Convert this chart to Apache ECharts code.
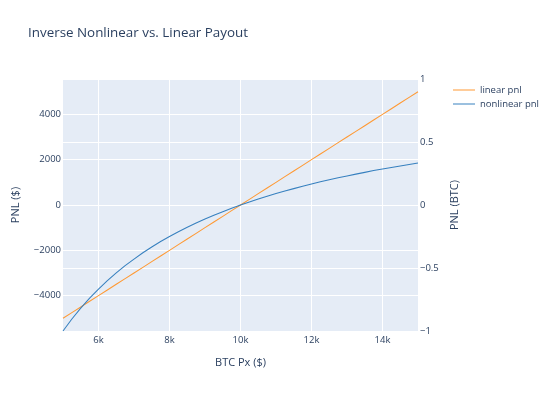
<!DOCTYPE html>
<html>
<head>
<meta charset="utf-8">
<script src="https://cdn.jsdelivr.net/npm/echarts@6/dist/echarts.min.js"></script>
<style>html,body{margin:0;padding:0;background:#fff}#c{width:554px;height:395px}</style>
</head>
<body>
<div id="c"></div>
<script>
var prices = [5000,5250,5500,5750,6000,6250,6500,6750,7000,7250,7500,7750,8000,8250,8500,8750,9000,9250,9500,9750,10000,10250,10500,10750,11000,11250,11500,11750,12000,12250,12500,12750,13000,13250,13500,13750,14000,14250,14500,14750,15000];
var linearPnl = [-5000,-4750,-4500,-4250,-4000,-3750,-3500,-3250,-3000,-2750,-2500,-2250,-2000,-1750,-1500,-1250,-1000,-750,-500,-250,0,250,500,750,1000,1250,1500,1750,2000,2250,2500,2750,3000,3250,3500,3750,4000,4250,4500,4750,5000];
var nonlinearPnl = [-1.000,-0.905,-0.818,-0.739,-0.667,-0.600,-0.538,-0.481,-0.429,-0.379,-0.333,-0.290,-0.250,-0.212,-0.176,-0.143,-0.111,-0.081,-0.053,-0.026,0.000,0.024,0.048,0.070,0.091,0.111,0.130,0.149,0.167,0.184,0.200,0.216,0.231,0.245,0.259,0.273,0.286,0.298,0.310,0.322,0.333];
var xTicks = [6000,8000,10000,12000,14000];
var leftTicks = [-4000,-2000,0,2000,4000];
var seriesNames = ['linear pnl','nonlinear pnl'];
var titleText = 'Inverse Nonlinear vs. Linear Payout';

var FONT = '"Open Sans", sans-serif';
var TXT = '#2a3f5f';
function minus(v){ return v < 0 ? '\u2212' + String(-v) : String(v); }
function zip(a,b){ return a.map(function(x,i){ return [x,b[i]]; }); }

var chart = echarts.init(document.getElementById('c'), null, {renderer:'canvas'});
chart.setOption({
  animation:false,
  backgroundColor:'#fff',
  textStyle:{fontFamily:FONT},
  title:{text:titleText,left:23,top:22,padding:5,textStyle:{fontFamily:FONT,fontSize:13.4,fontWeight:'normal',color:TXT}},
  legend:{
    data:seriesNames, orient:'vertical', left:448, top:80, padding:5, itemGap:4,
    itemWidth:22, itemHeight:10, icon:'path://M0,4.5 L22,4.5 L22,5.5 L0,5.5 Z',
    textStyle:{fontFamily:FONT,fontSize:9.5,color:TXT,padding:[0,0,0,0]}
  },
  grid:{left:63,right:136,top:79,bottom:64,containLabel:false,outerBoundsMode:'none',show:true,backgroundColor:'#E5ECF6',borderWidth:0},
  xAxis:{
    type:'value', min:5000, max:15000,
    name:'BTC Px ($)', nameLocation:'middle', nameGap:26,
    nameTextStyle:{fontFamily:FONT,fontSize:11,color:TXT},
    axisLine:{show:false}, axisTick:{show:false, customValues:xTicks},
    axisLabel:{customValues:xTicks, margin:4, fontFamily:FONT, fontSize:9.5, color:TXT,
      formatter:function(v){ return (v/1000)+'k'; }},
    splitLine:{show:true,lineStyle:{color:'#fff',width:1}}
  },
  yAxis:[{
    type:'value', min:-5560, max:5560, position:'left',
    name:'PNL ($)', nameLocation:'middle', nameGap:42,
    nameTextStyle:{fontFamily:FONT,fontSize:11,color:TXT},
    axisLine:{show:false}, axisTick:{show:false, customValues:leftTicks},
    axisLabel:{customValues:leftTicks, margin:2, fontFamily:FONT, fontSize:9.5, color:TXT, formatter:minus},
    splitLine:{show:true,lineStyle:{color:'#fff',width:1}}
  },{
    type:'value', min:-1, max:1, interval:0.5, position:'right',
    name:'PNL (BTC)', nameLocation:'middle', nameGap:30,
    nameTextStyle:{fontFamily:FONT,fontSize:11,color:TXT},
    axisLine:{show:false}, axisTick:{show:false},
    axisLabel:{margin:2, fontFamily:FONT, fontSize:9.5, color:TXT, formatter:minus},
    splitLine:{show:true,lineStyle:{color:'#fff',width:1}}
  }],
  series:[{
    name:seriesNames[0], type:'line', yAxisIndex:0, data:zip(prices,linearPnl),
    symbol:'none', lineStyle:{color:'rgb(255,153,51)',width:1.05}, itemStyle:{color:'rgb(255,153,51)'}
  },{
    name:seriesNames[1], type:'line', yAxisIndex:1, data:zip(prices,nonlinearPnl),
    symbol:'none', smooth:false, lineStyle:{color:'rgb(55,128,191)',width:1.05}, itemStyle:{color:'rgb(55,128,191)'}
  }]
});
</script>
</body>
</html>
